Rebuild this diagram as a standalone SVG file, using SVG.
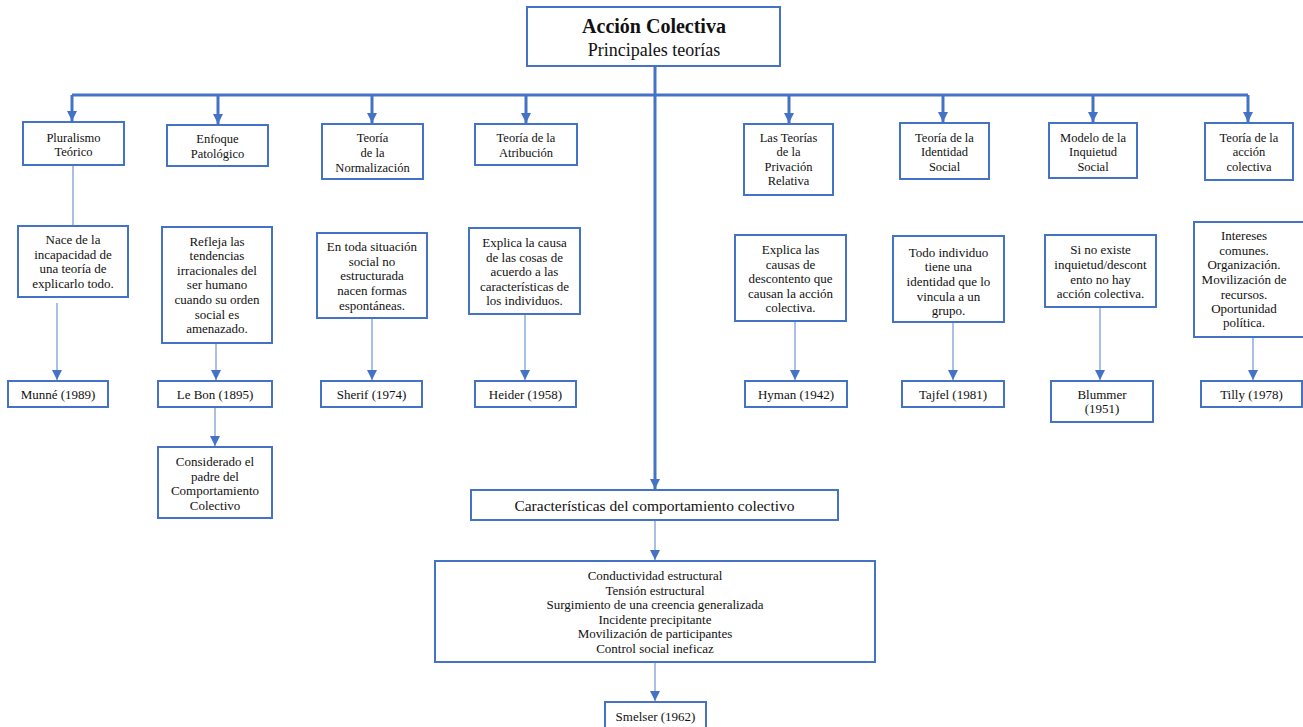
<svg xmlns="http://www.w3.org/2000/svg" width="1303" height="727" viewBox="0 0 1303 727" font-family="Liberation Serif, serif">
<style>
.box{fill:#fff;stroke:#4472C4;stroke-width:2}
.t{font-size:12.5px;fill:#111;text-anchor:middle}
.t2{font-size:13px;fill:#111;text-anchor:middle}
.thick{fill:none;stroke:#4472C4;stroke-width:3}
.thin{fill:none;stroke:#8FAADC;stroke-width:1.5}
</style>
<defs>
<marker id="ah" markerUnits="userSpaceOnUse" markerWidth="11" markerHeight="10" refX="10" refY="5" orient="auto" viewBox="0 0 11 10">
<path d="M0,0 L10,5 L0,10 z" fill="#4472C4"/>
</marker>
</defs>
<rect width="1303" height="727" fill="#fff"/>
<g id="connectors">
<path class="thick" d="M655,66 V489" marker-end="url(#ah)"/>
<path class="thick" d="M72,95 H1248"/>
<path class="thick" d="M72,95 V121" marker-end="url(#ah)"/>
<path class="thick" d="M218,95 V124" marker-end="url(#ah)"/>
<path class="thick" d="M372,95 V123" marker-end="url(#ah)"/>
<path class="thick" d="M526,95 V123" marker-end="url(#ah)"/>
<path class="thick" d="M789,95 V123" marker-end="url(#ah)"/>
<path class="thick" d="M943,95 V122" marker-end="url(#ah)"/>
<path class="thick" d="M1093,95 V122" marker-end="url(#ah)"/>
<path class="thick" d="M1248,95 V122" marker-end="url(#ah)"/>
<path class="thin" d="M73,165 V226"/>
<path class="thin" d="M57,303 V380" marker-end="url(#ah)"/>
<path class="thin" d="M216,343 V380" marker-end="url(#ah)"/>
<path class="thin" d="M215,407 V446" marker-end="url(#ah)"/>
<path class="thin" d="M372,318 V380" marker-end="url(#ah)"/>
<path class="thin" d="M525,314 V380" marker-end="url(#ah)"/>
<path class="thin" d="M795,321 V380" marker-end="url(#ah)"/>
<path class="thin" d="M953,322 V380" marker-end="url(#ah)"/>
<path class="thin" d="M1100,307 V380" marker-end="url(#ah)"/>
<path class="thin" d="M1253,337 V380" marker-end="url(#ah)"/>
<path class="thin" d="M655,520 V560" marker-end="url(#ah)"/>
<path class="thin" d="M655,662 V701" marker-end="url(#ah)"/>
</g>
<g id="root">
<rect class="box" x="527" y="7" width="253" height="59"/>
<text x="654" y="33" font-size="20" font-weight="bold" text-anchor="middle" fill="#111">Acción Colectiva</text>
<text x="654" y="56" font-size="18" text-anchor="middle" fill="#111">Principales teorías</text>
</g>
<g id="n-pluralismo">
<rect class="box" x="23" y="122" width="101" height="43"/>
<text class="t"><tspan x="73.5" y="141.5">Pluralismo</tspan><tspan x="73.5" y="155.5">Teórico</tspan></text>
</g>
<g id="n-enfoque">
<rect class="box" x="167" y="125" width="101" height="41"/>
<text class="t"><tspan x="217.5" y="142.5">Enfoque</tspan><tspan x="217.5" y="157.5">Patológico</tspan></text>
</g>
<g id="n-normalizacion">
<rect class="box" x="322" y="124" width="101" height="55"/>
<text class="t"><tspan x="372.5" y="141.5">Teoría</tspan><tspan x="372.5" y="156.5">de la</tspan><tspan x="372.5" y="171.5">Normalización</tspan></text>
</g>
<g id="n-atribucion">
<rect class="box" x="475" y="124" width="102" height="41"/>
<text class="t"><tspan x="526" y="141.5">Teoría de la</tspan><tspan x="526" y="156.5">Atribución</tspan></text>
</g>
<g id="n-privacion">
<rect class="box" x="744" y="124" width="89" height="71"/>
<text class="t"><tspan x="788.5" y="141.5">Las Teorías</tspan><tspan x="788.5" y="156">de la</tspan><tspan x="788.5" y="170.5">Privación</tspan><tspan x="788.5" y="185">Relativa</tspan></text>
</g>
<g id="n-identidad">
<rect class="box" x="900" y="123" width="89" height="56"/>
<text class="t"><tspan x="944.5" y="141.5">Teoría de la</tspan><tspan x="944.5" y="155.5">Identidad</tspan><tspan x="944.5" y="170.5">Social</tspan></text>
</g>
<g id="n-inquietud">
<rect class="box" x="1049" y="123" width="88" height="55"/>
<text class="t"><tspan x="1093" y="141.5">Modelo de la</tspan><tspan x="1093" y="155.5">Inquietud</tspan><tspan x="1093" y="170.5">Social</tspan></text>
</g>
<g id="n-accion">
<rect class="box" x="1205" y="123" width="88" height="57"/>
<text class="t"><tspan x="1249" y="141.5">Teoría de la</tspan><tspan x="1249" y="155.5">acción</tspan><tspan x="1249" y="170.5">colectiva</tspan></text>
</g>
<g id="d-nace">
<rect class="box" x="18" y="226" width="110" height="71"/>
<text class="t2"><tspan x="73" y="243.5">Nace de la</tspan><tspan x="73" y="258.5">incapacidad de</tspan><tspan x="73" y="272.5">una teoría de</tspan><tspan x="73" y="287.5">explicarlo todo.</tspan></text>
</g>
<g id="d-refleja">
<rect class="box" x="162" y="227" width="110" height="116"/>
<text class="t2"><tspan x="217" y="245.5">Refleja las</tspan><tspan x="217" y="260">tendencias</tspan><tspan x="217" y="274.5">irracionales del</tspan><tspan x="217" y="289">ser humano</tspan><tspan x="217" y="303.5">cuando su orden</tspan><tspan x="217" y="318.5">social es</tspan><tspan x="217" y="333">amenazado.</tspan></text>
</g>
<g id="d-entoda">
<rect class="box" x="317" y="233" width="110" height="85"/>
<text class="t2"><tspan x="372" y="250.5">En toda situación</tspan><tspan x="372" y="265.5">social no</tspan><tspan x="372" y="280">estructurada</tspan><tspan x="372" y="294.5">nacen formas</tspan><tspan x="372" y="309.5">espontáneas.</tspan></text>
</g>
<g id="d-explica1">
<rect class="box" x="469" y="228" width="111" height="86"/>
<text class="t2"><tspan x="524.5" y="246.5">Explica la causa</tspan><tspan x="524.5" y="261.5">de las cosas de</tspan><tspan x="524.5" y="275.5">acuerdo a las</tspan><tspan x="524.5" y="290.5">características de</tspan><tspan x="524.5" y="304.5">los individuos.</tspan></text>
</g>
<g id="d-explica2">
<rect class="box" x="735" y="235" width="111" height="86"/>
<text class="t2"><tspan x="790.5" y="253.5">Explica las</tspan><tspan x="790.5" y="268.5">causas de</tspan><tspan x="790.5" y="282.5">descontento que</tspan><tspan x="790.5" y="297.5">causan la acción</tspan><tspan x="790.5" y="311.5">colectiva.</tspan></text>
</g>
<g id="d-todo">
<rect class="box" x="893" y="236" width="111" height="86"/>
<text class="t2"><tspan x="948.5" y="256.5">Todo individuo</tspan><tspan x="948.5" y="270.5">tiene una</tspan><tspan x="948.5" y="285.5">identidad que lo</tspan><tspan x="948.5" y="300.5">vincula a un</tspan><tspan x="948.5" y="314.5">grupo.</tspan></text>
</g>
<g id="d-sino">
<rect class="box" x="1045" y="235" width="111" height="72"/>
<text class="t2"><tspan x="1100.5" y="253.5">Si no existe</tspan><tspan x="1100.5" y="268.5">inquietud/descont</tspan><tspan x="1100.5" y="283.5">ento no hay</tspan><tspan x="1100.5" y="297.5">acción colectiva.</tspan></text>
</g>
<g id="d-intereses">
<rect class="box" x="1194" y="222" width="112" height="115"/>
<text class="t2"><tspan x="1244" y="239.5">Intereses</tspan><tspan x="1244" y="254.5">comunes.</tspan><tspan x="1244" y="268.5">Organización.</tspan><tspan x="1244" y="283.5">Movilización de</tspan><tspan x="1244" y="298.5">recursos.</tspan><tspan x="1244" y="312.5">Oportunidad</tspan><tspan x="1244" y="327">política.</tspan></text>
</g>
<g id="a-munne">
<rect class="box" x="8" y="381" width="100" height="26"/>
<text class="t2" x="58" y="398.5">Munné (1989)</text>
</g>
<g id="a-lebon">
<rect class="box" x="158" y="381" width="114" height="26"/>
<text class="t2" x="215" y="398.5">Le Bon (1895)</text>
</g>
<g id="a-considerado">
<rect class="box" x="158" y="447" width="114" height="71"/>
<text class="t2"><tspan x="215" y="465.5">Considerado el</tspan><tspan x="215" y="480.5">padre del</tspan><tspan x="215" y="494.5">Comportamiento</tspan><tspan x="215" y="509.5">Colectivo</tspan></text>
</g>
<g id="a-sherif">
<rect class="box" x="321" y="381" width="101" height="26"/>
<text class="t2" x="371.5" y="398.5">Sherif (1974)</text>
</g>
<g id="a-heider">
<rect class="box" x="475" y="381" width="101" height="26"/>
<text class="t2" x="525.5" y="398.5">Heider (1958)</text>
</g>
<g id="a-hyman">
<rect class="box" x="745" y="381" width="102" height="26"/>
<text class="t2" x="796" y="398.5">Hyman (1942)</text>
</g>
<g id="a-tajfel">
<rect class="box" x="902" y="381" width="102" height="26"/>
<text class="t2" x="953" y="398.5">Tajfel (1981)</text>
</g>
<g id="a-blummer">
<rect class="box" x="1051" y="381" width="102" height="41"/>
<text class="t2"><tspan x="1102" y="398.5">Blummer</tspan><tspan x="1102" y="413">(1951)</tspan></text>
</g>
<g id="a-tilly">
<rect class="box" x="1201" y="381" width="101" height="26"/>
<text class="t2" x="1251.5" y="398.5">Tilly (1978)</text>
</g>
<g id="caracteristicas">
<rect class="box" x="471" y="490" width="367" height="30"/>
<text x="654.5" y="511" font-size="15.5" text-anchor="middle" fill="#111">Características del comportamiento colectivo</text>
</g>
<g id="lista">
<rect class="box" x="435" y="561" width="440" height="101"/>
<text class="t2"><tspan x="655" y="579.5">Conductividad estructural</tspan><tspan x="655" y="594.5">Tensión estructural</tspan><tspan x="655" y="609">Surgimiento de una creencia generalizada</tspan><tspan x="655" y="623.5">Incidente precipitante</tspan><tspan x="655" y="638">Movilización de participantes</tspan><tspan x="655" y="653">Control social ineficaz</tspan></text>
</g>
<g id="smelser">
<rect class="box" x="605" y="702" width="101" height="35"/>
<text class="t2" x="655.5" y="720.5">Smelser (1962)</text>
</g>
</svg>
